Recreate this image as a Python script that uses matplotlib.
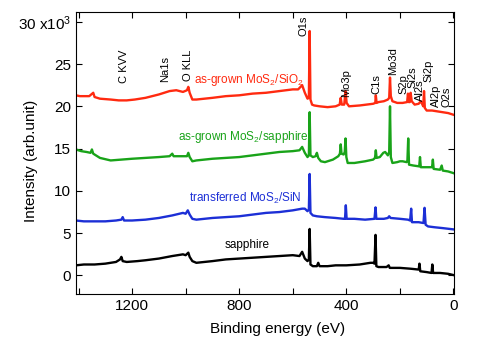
import matplotlib
matplotlib.use("Agg")
import matplotlib.pyplot as plt

plt.rcParams["font.family"] = ["Liberation Sans", "DejaVu Sans"]
plt.rcParams["mathtext.fontset"] = "custom"
plt.rcParams["mathtext.rm"] = "Liberation Sans"
plt.rcParams["mathtext.default"] = "regular"

# XPS survey spectra, intensity in units of 10^3 counts
e_sio2 = [1410, 1395, 1360, 1345, 1340, 1320, 1280, 1250, 1220, 1190, 1150, 1100,
          1060, 1035, 1010, 995, 990, 985, 975, 960, 900, 850, 800, 750, 700, 650,
          600, 580, 565, 555, 545, 540, 537, 534, 528, 520, 500, 470, 440, 425, 421,
          417, 408, 403, 399, 390, 350, 300, 292, 290, 287, 280, 260, 245, 240, 237,
          234, 228, 210, 190, 173, 170, 167, 163, 160, 156, 145, 130, 122, 116, 113,
          110, 107, 100, 80, 60, 40, 20, 0]
i_sio2 = [21.3, 21.2, 21.2, 21.6, 21.1, 20.9, 20.8, 20.7, 20.7, 20.8, 21.0, 21.4,
          21.8, 21.9, 21.7, 21.9, 22.3, 21.6, 20.8, 20.8, 21.0, 21.2, 21.3, 21.5, 21.6, 21.8,
          22.0, 22.0, 22.5, 21.6, 20.9, 21.0, 28.9, 20.8, 20.2, 20.1, 20.0, 19.9, 20.0, 20.2, 21.0,
          20.2, 20.2, 21.8, 20.4, 20.0, 20.1, 20.3, 20.4, 21.3, 20.4, 20.5, 20.6, 20.8, 21.0, 23.4,
          21.2, 20.6, 20.4, 20.4, 20.5, 21.5, 20.5, 20.5, 21.6, 20.6, 20.2, 20.3, 20.6, 20.2, 20.0,
          21.8, 19.8, 19.5, 19.5, 19.4, 19.3, 19.2, 19.0]

e_sapph_mos2 = [1410, 1390, 1370, 1355, 1350, 1345, 1320, 1280, 1240, 1200, 1150, 1100,
                1060, 1050, 1045, 1010, 995, 990, 985, 975, 960, 900, 850, 800, 750, 700,
                650, 600, 575, 565, 555, 545, 540, 537, 534, 525, 515, 510, 505, 495, 480,
                450, 430, 424, 421, 418, 410, 406, 403, 400, 395, 370, 330, 300, 293, 290,
                287, 275, 262, 255, 245, 240, 237, 234, 228, 210, 200, 190, 175, 172, 169,
                166, 150, 128, 125, 122, 100, 80, 77, 74, 50, 44, 40, 20, 0]
i_sapph_mos2 = [14.9, 14.7, 14.6, 14.5, 14.9, 14.4, 13.9, 13.6, 13.7, 13.8, 13.9, 14.0,
                14.1, 14.4, 14.1, 14.1, 14.1, 14.5, 14.0, 13.5, 13.6, 13.8, 13.9, 14.0, 14.2, 14.4,
                14.6, 14.7, 14.8, 15.2, 14.5, 14.0, 14.2, 19.3, 14.2, 14.0, 14.1, 14.5, 13.9, 13.5, 13.4,
                13.7, 14.1, 14.4, 15.5, 14.4, 14.3, 14.6, 16.2, 14.0, 13.3, 13.3, 13.5, 13.7, 13.9, 14.8,
                13.9, 14.0, 14.5, 14.6, 14.2, 14.6, 20.0, 14.0, 13.3, 13.4, 13.5, 13.5, 13.4, 13.6, 16.2,
                13.1, 13.0, 12.9, 14.0, 12.8, 12.8, 12.8, 13.7, 12.6, 12.5, 13.0, 12.4, 12.3, 12.1]

e_sin = [1410, 1380, 1340, 1300, 1260, 1240, 1235, 1230, 1200, 1150, 1100, 1050, 1010,
         1000, 992, 985, 975, 960, 900, 850, 800, 750, 700, 650, 600, 565, 555, 545,
         540, 537, 534, 525, 510, 480, 440, 410, 405, 402, 399, 370, 330, 295, 291,
         288, 260, 245, 240, 235, 200, 170, 162, 158, 155, 130, 112, 108, 104, 95,
         70, 40, 0]
i_sin = [6.5, 6.4, 6.4, 6.4, 6.5, 6.6, 6.9, 6.5, 6.5, 6.6, 6.8, 7.1, 7.4,
         7.3, 7.7, 7.2, 6.7, 6.6, 6.8, 6.9, 7.0, 7.2, 7.4, 7.5, 7.7, 7.9, 7.9, 7.6,
         7.8, 12.0, 7.4, 7.1, 7.0, 6.9, 6.8, 6.7, 6.7, 8.3, 6.7, 6.7, 6.6, 6.7, 8.05,
         6.7, 6.7, 6.8, 7.0, 6.8, 6.7, 6.6, 6.5, 7.9, 6.3, 6.3, 6.2, 8.0, 6.0, 5.8,
         5.7, 5.6, 5.45]

e_sapph = [1410, 1380, 1340, 1300, 1260, 1245, 1240, 1235, 1220, 1180, 1150, 1100,
           1050, 1010, 1000, 990, 985, 975, 960, 900, 850, 800, 750, 700, 650, 600,
           575, 565, 555, 545, 540, 537, 534, 525, 510, 505, 500, 470, 440, 400, 350,
           310, 300, 295, 291, 288, 280, 250, 242, 238, 200, 160, 130, 127, 124, 100,
           82, 79, 76, 50, 20, 0]
i_sapph = [1.2, 1.3, 1.3, 1.4, 1.6, 1.9, 2.2, 1.7, 1.6, 1.7, 1.8, 2.0,
           2.3, 2.5, 2.4, 2.7, 2.2, 1.7, 1.5, 1.7, 1.9, 2.0, 2.1, 2.2, 2.3, 2.4,
           2.3, 2.8, 2.0, 1.7, 1.9, 5.5, 1.3, 1.1, 1.1, 1.5, 1.1, 1.1, 1.2, 1.2, 1.3,
           1.5, 1.5, 1.4, 4.8, 1.1, 1.0, 1.0, 1.2, 0.9, 0.9, 0.8, 0.7, 1.4, 0.5, 0.4,
           0.3, 1.3, 0.3, 0.3, 0.2, 0.05]

# peak labels: text, energy, height
peak_names = ["C KVV", "Na1s", "O KLL", "O1s", "Mo3p", "C1s", "Mo3d",
              "S2p", "Si2s", "Al2s", "Si2p", "Al2p", "O2s"]
peak_e = [1231, 1075, 990, 560, 400, 287, 227, 187, 153, 124, 95, 67, 25]
peak_y = [22.7, 22.9, 23.0, 28.3, 21.1, 21.5, 23.7, 21.4, 22.2, 20.6, 22.9, 19.9, 19.9]

red = "#ff2a10"
green = "#19a319"
blue = "#1c2fd6"

fig = plt.figure(figsize=(4.83, 3.40), dpi=100)
ax = fig.add_axes([0.157, 0.135, 0.783, 0.831])

ax.plot(e_sio2, i_sio2, color=red, lw=1.7)
ax.plot(e_sapph_mos2, i_sapph_mos2, color=green, lw=1.7)
ax.plot(e_sin, i_sin, color=blue, lw=1.7)
ax.plot(e_sapph, i_sapph, color="black", lw=1.7)

for name, e, y in zip(peak_names, peak_e, peak_y):
    ax.text(e, y, name, rotation=90, ha="center", va="bottom", fontsize=8)

ax.text(762, 23.1, "as-grown MoS$_2$/SiO$_2$", color=red, ha="center", va="center", fontsize=8.5)
ax.text(785, 16.4, "as-grown MoS$_2$/sapphire", color=green, ha="center", va="center", fontsize=8.5)
ax.text(777, 9.05, "transferred MoS$_2$/SiN", color=blue, ha="center", va="center", fontsize=8.5)
ax.text(770, 3.6, "sapphire", color="black", ha="center", va="center", fontsize=8.5)

ax.set_xlim(1410, -2)
ax.set_ylim(-2.2, 31.2)

xt = [1400, 1200, 1000, 800, 600, 400, 200, 0]
ax.set_xticks(xt)
ax.set_xticklabels(["" if v % 400 else str(v) for v in xt])
yt = [0, 5, 10, 15, 20, 25, 30]
ax.set_yticks(yt)
ax.set_yticklabels([str(v) for v in yt[:-1]] + ["30 x10$^3$"])
ax.tick_params(direction="in", top=True, right=True, length=4, labelsize=11)

ax.set_xlabel("Binding energy (eV)", fontsize=11)
ax.set_ylabel("Intensity (arb.unit)", fontsize=11)
ax.xaxis.set_label_coords(0.533, -0.10)
ax.yaxis.set_label_coords(-0.10, 0.47)

fig.savefig("out.png", dpi=100)
